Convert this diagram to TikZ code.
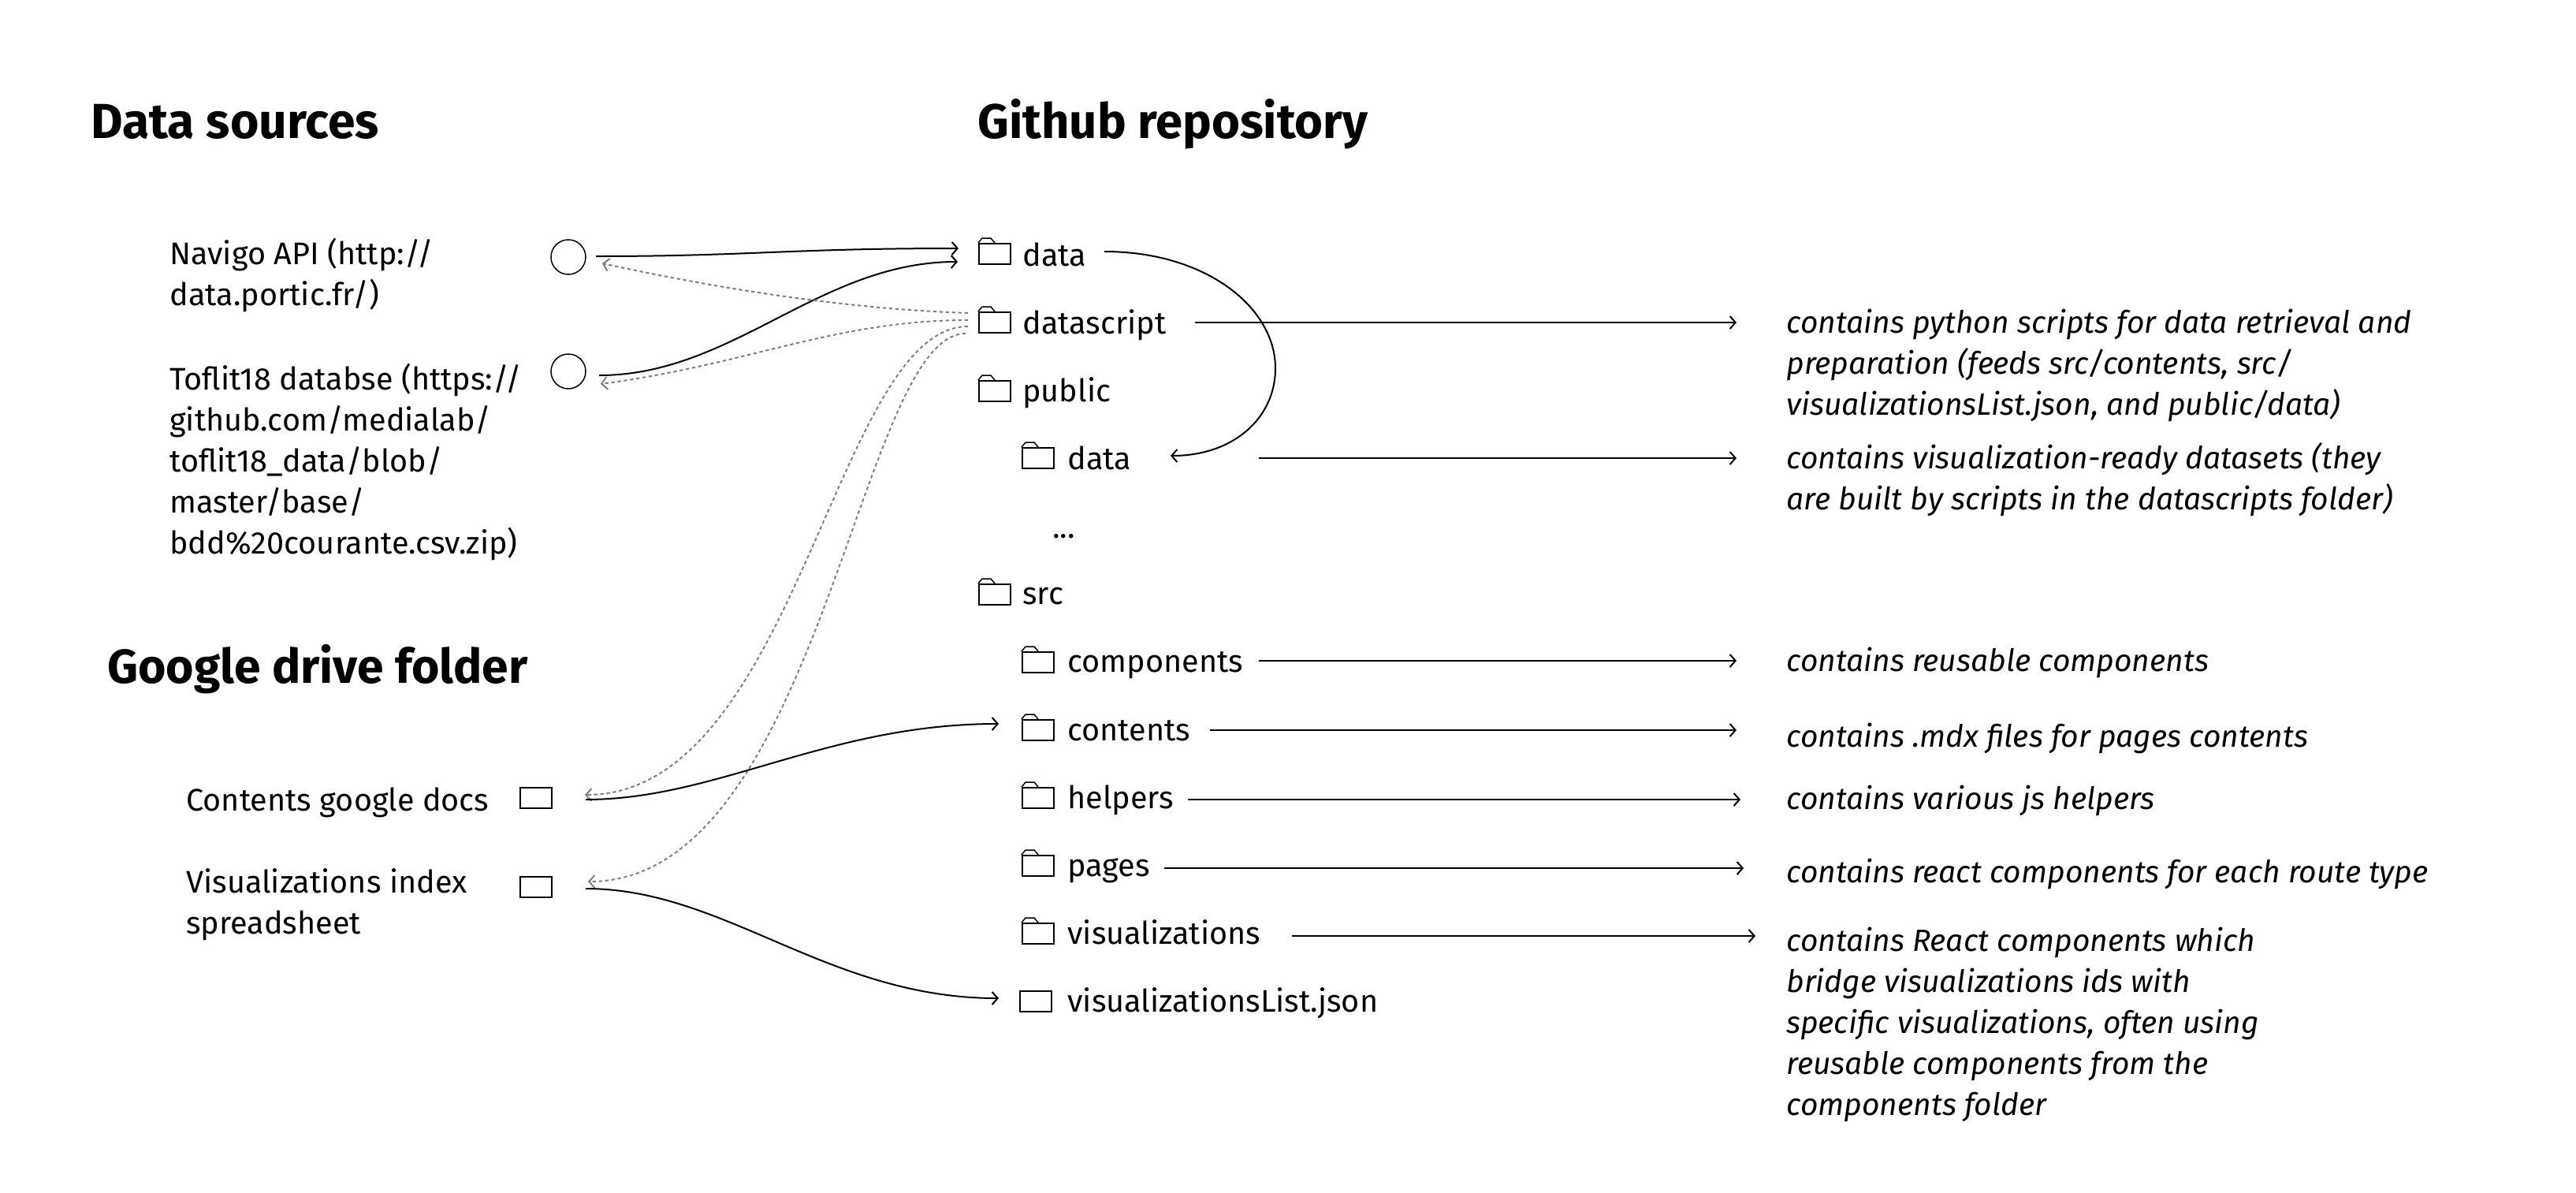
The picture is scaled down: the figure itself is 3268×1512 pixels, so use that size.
\documentclass[tikz,border=0pt]{standalone}
\usepackage{fontspec}
\setmainfont{Fira Sans}
\usetikzlibrary{arrows.meta}
\tikzset{
  lbl/.style={anchor=base west,inner sep=0pt,font=\fontsize{19.8}{26}\selectfont},
  mlbl/.style={anchor=north west,inner sep=0pt,align=left,font=\fontsize{19.8}{26}\selectfont},
  note/.style={anchor=north west,inner sep=0pt,align=left,font=\fontsize{19.5}{26}\selectfont\itshape},
  head/.style={anchor=base west,inner sep=0pt,font=\fontsize{#1}{34}\selectfont\bfseries},
  box/.style={draw,line width=0.75pt,inner sep=0pt,minimum width=20pt,minimum height=13pt},
  circ/.style={draw,circle,line width=0.75pt,inner sep=0pt,minimum size=22pt},
  tabline/.style={line width=0.75pt,line join=round},
  conn/.style={line width=1pt,-{Straight Barb[length=3.5pt,width=8pt]}},
  dot/.style={line width=1pt,gray,dash pattern=on 2.2pt off 1.8pt,-{Straight Barb[length=3.5pt,width=8pt]}}
}
\newcommand{\myfolder}[3]{%
  \node[box,anchor=north west] (#1) at (#2,#3) {};
  \draw[tabline] (#1.north west) -- ++(5,-6) -- ++(11,0) -- ++(5,6);
}
\begin{document}
\begin{tikzpicture}[x=0.5pt,y=-0.5pt]
\useasboundingbox (0,0) rectangle (3268,1512);
% headings
\node[head=31.2] (hdata) at (115,175) {Data sources};
\node[head=30.8] (hrepo) at (1240,175) {Github repository};
\node[head=30.3] (hdrive) at (136,866) {Google drive folder};
% sources
\node[mlbl] (navigo) at (215,302) {Navigo API (http://\\data.portic.fr/)};
\node[mlbl] (toflit) at (215,461) {Toflit18 databse (https://\\github.com/medialab/\\toflit18\_data/blob/\\master/base/\\bdd\%20courante.csv.zip)};
\node[circ] (c1) at (721,326) {};
\node[circ] (c2) at (721,471) {};
\node[mlbl] (docs) at (236,998) {Contents google docs};
\node[mlbl] (vis) at (236,1101) {Visualizations index\\spreadsheet};
\node[box,anchor=north west] (r1) at (659,998) {};
\node[box,anchor=north west] (r2) at (659,1111) {};
% tree
\myfolder{fdata}{1241}{308}
\myfolder{fscript}{1241}{395}
\myfolder{fpublic}{1241}{482}
\myfolder{fsub}{1296}{567}
\myfolder{fsrc}{1241}{740}
\myfolder{fcomp}{1296}{826}
\myfolder{fcont}{1296}{912}
\myfolder{fhelp}{1296}{998}
\myfolder{fpages}{1296}{1084}
\myfolder{fvis}{1296}{1170}
\node[box,anchor=north west] (flist) at (1293,1256) {};
\node[lbl] (tdata) at (1297,337) {data};
\node[lbl] (tscript) at (1297,423) {datascript};
\node[lbl] (tpublic) at (1297,509) {public};
\node[lbl] (tsub) at (1354,595) {data};
\node[lbl] (tdots) at (1335,682) {...};
\node[lbl] (tsrc) at (1297,766) {src};
\node[lbl] (tcomp) at (1354,852) {components};
\node[lbl] (tcont) at (1354,939) {contents};
\node[lbl] (thelp) at (1354,1025) {helpers};
\node[lbl] (tpages) at (1354,1111) {pages};
\node[lbl] (tvis) at (1354,1197) {visualizations};
\node[lbl] (tlist) at (1354,1283) {visualizationsList.json};
% notes
\node[note] (n1) at (2266,392) {contains python scripts for data retrieval and\\preparation (feeds src/contents, src/\\visualizationsList.json, and public/data)};
\node[note] (n2) at (2266,561) {contains visualization-ready datasets (they\\are built by scripts in the datascripts folder)};
\node[note] (n3) at (2266,821) {contains reusable components};
\node[note] (n4) at (2266,917) {contains .mdx files for pages contents};
\node[note] (n5) at (2266,996) {contains various js helpers};
\node[note] (n6) at (2266,1089) {contains react components for each route type};
\node[note] (n7) at (2266,1176) {contains React components which\\bridge visualizations ids with\\specific visualizations, often using\\reusable components from the\\components folder};
% free ends
\coordinate (a1s) at (756,325); \coordinate (a1e) at (1216,315);
\coordinate (a2s) at (760,476); \coordinate (a2e) at (1215,332);
\coordinate (d1s) at (1228,397); \coordinate (d1e) at (764,334);
\coordinate (d2s) at (1228,406); \coordinate (d2e) at (762,487);
\coordinate (d3s) at (1228,414); \coordinate (d3e) at (742,1008);
\coordinate (d4s) at (1225,423); \coordinate (d4e) at (746,1118);
\coordinate (b1s) at (743,1014); \coordinate (b1e) at (1267,918);
\coordinate (b2s) at (743,1127); \coordinate (b2e) at (1267,1266);
\coordinate (ds) at (1401,319); \coordinate (dm) at (1618,467); \coordinate (de) at (1485,578);
% connectors
\draw[conn] (a1s) .. controls (950,325) and (1000,315) .. (a1e);
\draw[conn] (a2s) .. controls (930,476) and (1040,332) .. (a2e);
\draw[dot] (d1s) .. controls (1080,392) and (920,368) .. (d1e);
\draw[dot] (d2s) .. controls (1060,406) and (950,462) .. (d2e);
\draw[dot] (d3s) .. controls (1060,414) and (1010,1008) .. (d3e);
\draw[dot] (d4s) .. controls (1090,423) and (1040,1118) .. (d4e);
\draw[conn] (b1s) .. controls (910,1014) and (1050,918) .. (b1e);
\draw[conn] (b2s) .. controls (920,1127) and (1050,1266) .. (b2e);
\draw[conn] (ds) .. controls (1530,319) and (1618,390) .. (dm) .. controls (1618,530) and (1565,578) .. (de);
\coordinate (h1) at (1516,409); \coordinate (h1e) at (2203,409);
\coordinate (h2) at (1597,581); \coordinate (h2e) at (2203,581);
\coordinate (h3) at (1597,838); \coordinate (h3e) at (2203,838);
\coordinate (h4) at (1535,926); \coordinate (h4e) at (2203,926);
\coordinate (h5) at (1507,1014); \coordinate (h5e) at (2208,1014);
\coordinate (h6) at (1477,1101); \coordinate (h6e) at (2212,1101);
\coordinate (h7) at (1639,1187); \coordinate (h7e) at (2227,1187);
\foreach \s/\e in {h1/h1e,h2/h2e,h3/h3e,h4/h4e,h5/h5e,h6/h6e,h7/h7e}
  \draw[conn] (\s) -- (\e);
\end{tikzpicture}
\end{document}
